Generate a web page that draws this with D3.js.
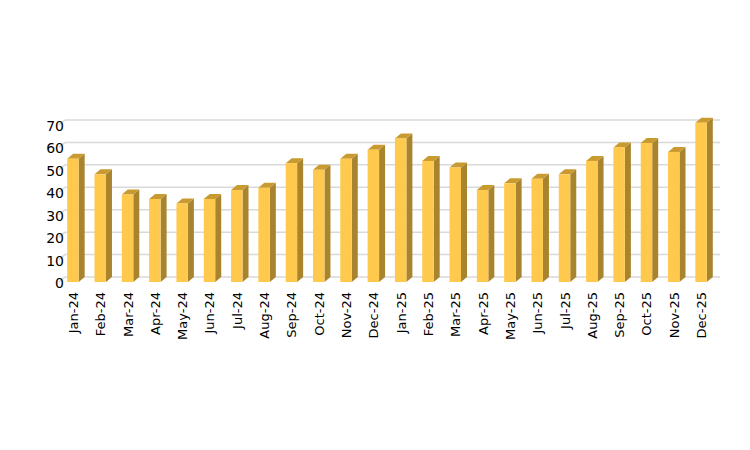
<!DOCTYPE html><html><head><meta charset="utf-8">
<script src="https://cdn.jsdelivr.net/npm/d3@7"></script>
<style>body{margin:0;background:#fff}</style></head><body>
<svg id="c" width="750" height="450"></svg>
<script>
const categories=["Jan-24","Feb-24","Mar-24","Apr-24","May-24","Jun-24","Jul-24","Aug-24","Sep-24","Oct-24","Nov-24","Dec-24","Jan-25","Feb-25","Mar-25","Apr-25","May-25","Jun-25","Jul-25","Aug-25","Sep-25","Oct-25","Nov-25","Dec-25"];
const values=[55,48,39,37,35,37,41,42,53,50,55,59,64,54,51,41,44,46,48,54,60,62,58,71];
const ticks=[0,10,20,30,40,50,60,70];
const svg=d3.select("#c");
const dx=6,dy=-5;
const x=d3.scaleBand().domain(categories).range([59,715]).paddingInner(0.58).paddingOuter(0.3);
const y=d3.scaleLinear().domain([0,70]).range([282,125]);
const g=svg.append("g");
ticks.forEach(t=>{
  g.append("line").attr("x1",59).attr("y1",y(t)).attr("x2",59+dx).attr("y2",y(t)+dy).attr("stroke","#d9d9d9").attr("stroke-width",1.5);
  g.append("line").attr("x1",59+dx).attr("y1",y(t)+dy).attr("x2",720).attr("y2",y(t)+dy).attr("stroke","#d9d9d9").attr("stroke-width",1.5);
  g.append("text").attr("x",64).attr("y",y(t)+2).attr("text-anchor","end").attr("dominant-baseline","middle")
   .attr("font-family","DejaVu Sans, Arial").attr("font-size",14).attr("fill","#000").text(t);
});
const bw=x.bandwidth();
categories.forEach((c,i)=>{
  const x0=x(c),x1=x0+bw,yt=y(values[i]),yb=y(0);
  g.append("path").attr("d",`M${x1},${yt}L${x1+dx},${yt+dy}L${x1+dx},${yb+dy}L${x1},${yb}Z`).attr("fill","#A8842E");
  g.append("path").attr("d",`M${x0},${yt}L${x0+dx},${yt+dy}L${x1+dx},${yt+dy}L${x1},${yt}Z`).attr("fill","#C99A30");
  g.append("rect").attr("x",x0).attr("y",yt).attr("width",bw).attr("height",yb-yt).attr("fill","#FFC94D");
  g.append("text").attr("transform",`translate(${x0+bw/2+5},292) rotate(-90)`).attr("text-anchor","end")
   .attr("font-family","DejaVu Sans, Arial").attr("font-size",13).attr("fill","#000").text(c);
});
</script></body></html>
